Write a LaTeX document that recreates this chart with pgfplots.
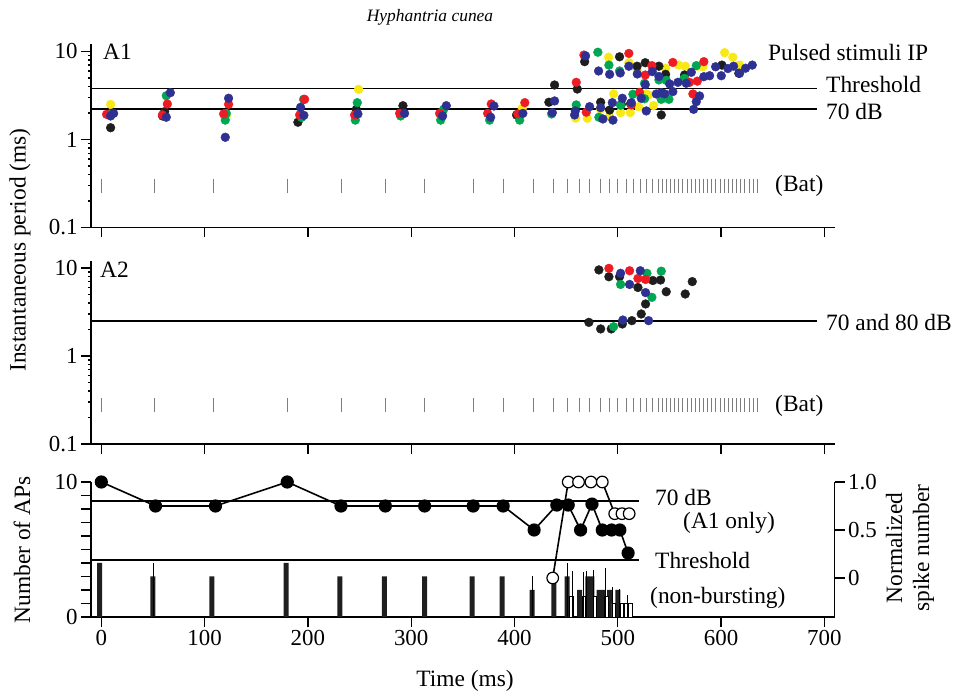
\documentclass[border=0pt]{standalone}
\usepackage{pgfplots}
\usepackage{pgfplotstable}
\pgfplotsset{compat=1.18}
\usepackage{fontspec}
\setmainfont{Liberation Serif}
\definecolor{cred}{RGB}{237,28,36}
\definecolor{cgreen}{RGB}{0,166,81}
\definecolor{cblue}{RGB}{46,49,146}
\definecolor{cyellow}{RGB}{248,232,20}
\definecolor{cblack}{RGB}{30,30,30}
\definecolor{batgray}{RGB}{125,125,125}
\pgfplotsset{
  base/.style={scale only axis, width=743.7bp, xmin=-10, xmax=710,
    axis line style={line width=1.2bp, -}, tick style={line width=1.2bp, black},
    tick align=outside, major tick length=10bp,
    tick label style={font=\fontsize{23}{25}\selectfont},
    /pgf/number format/assume math mode=true, clip=false},
  dots/.style={only marks, color=#1, mark=*, mark size=4.4bp, mark options={solid, draw=#1, fill=#1, line width=0.4bp}},
  bat/.style={only marks, mark=|, mark size=7bp, mark options={draw=batgray, line width=0.9bp}},
  thr/.style={black, line width=1.3bp, no marks},
}
\pgfplotstableread{
t v
5.1 1.93
63.9 2.53
59.1 1.9
123.2 2.51
118.4 1.95
196.8 2.86
192.0 1.9
245.2 1.9
288.8 1.98
327.5 1.98
377.5 2.53
374.0 1.98
410.0 2.62
403.2 1.95
467.2 9.1
510.7 9.5
526.6 5.4
459.8 4.46
469.5 2.04
513.1 2.47
521.1 3.43
533.0 6.9
553.3 7.5
583.3 7.66
569.5 4.46
577.0 4.6
572.7 3.29
}\redA
\pgfplotstableread{
t v
8.0 1.95
62.9 3.14
121.0 1.98
120.0 1.66
195.8 2.86
193.9 1.78
247.8 2.62
245.9 1.66
289.7 1.85
331.4 2.2
328.5 1.66
375.9 1.66
405.0 1.66
480.7 9.8
491.4 7.0
501.7 6.0
525.9 4.35
435.9 1.95
459.8 2.47
481.7 1.79
502.7 2.45
514.6 3.26
525.9 2.9
539.8 4.75
546.9 4.7
563.7 4.8
564.6 4.95
576.0 6.9
542.1 2.86
549.5 2.86
}\greenA
\pgfplotstableread{
t v
11.9 1.98
9.0 1.85
66.8 3.4
62.9 1.79
123.2 2.94
120.0 1.06
192.9 2.32
196.1 1.88
248.4 1.95
293.6 1.98
334.0 2.42
330.4 1.85
380.1 2.4
376.9 1.79
408.1 1.98
468.8 8.9
481.4 6.0
492.1 5.5
502.4 5.7
510.7 6.8
518.9 5.55
526.6 4.2
438.8 2.74
436.6 2.02
458.9 2.11
458.2 1.9
472.7 2.36
483.4 2.3
485.6 1.71
495.3 1.66
494.7 2.62
504.4 2.94
513.1 2.62
522.7 2.94
527.6 2.11
533.4 5.9
537.3 3.29
542.1 3.4
545.3 3.3
539.8 5.2
550.2 4.27
553.3 3.5
558.2 4.46
566.3 4.35
571.2 5.8
573.4 2.2
576.0 2.69
579.2 3.12
583.3 5.17
588.9 5.3
594.7 6.7
600.2 5.3
606.6 6.4
612.1 6.8
617.9 5.65
623.7 6.45
630.2 7.0
}\blueA
\pgfplotstableread{
t v
9.0 2.5
121.0 1.85
249.1 3.71
330.4 1.98
407.6 2.26
491.1 8.6
510.7 7.45
518.7 6.2
459.2 1.75
470.5 1.74
483.1 2.22
492.1 1.81
496.0 3.29
502.7 2.02
512.1 2.02
527.6 3.29
520.2 2.36
529.8 3.2
534.6 2.42
546.3 6.45
558.9 7.0
565.4 6.8
582.4 6.7
577.3 6.8
603.4 9.7
611.4 8.6
617.9 7.0
540.7 5.0
}\yellowA
\pgfplotstableread{
t v
9.0 1.36
61.3 2.07
59.3 1.85
190.3 1.57
246.9 2.2
292.0 2.42
402.0 1.9
467.9 7.66
501.7 8.7
518.7 6.8
526.6 7.45
438.8 4.16
460.8 3.74
433.3 2.65
483.4 2.65
492.1 2.16
503.4 2.51
512.4 2.55
539.8 6.8
546.3 5.5
564.6 5.4
542.1 1.9
600.8 7.0
617.2 5.65
}\blackA
\pgfplotstableread{
t a1 a2
0 0.30 0.277
51 0.30 0.277
109 0.30 0.277
180 0.30 0.277
232 0.30 0.277
275 0.30 0.277
313 0.30 0.277
360 0.30 0.277
389 0.30 0.277
418 0.30 0.277
438 0.30 0.277
451 0.30 0.277
463 0.30 0.277
473 0.30 0.277
483 0.30 0.277
492 0.30 0.277
500 0.30 0.277
508 0.30 0.277
515 0.30 0.277
522 0.30 0.277
528 0.30 0.277
534 0.30 0.277
539 0.30 0.277
543 0.30 0.277
547 0.30 0.277
551 0.30 0.277
555 0.30 0.277
559 0.30 0.277
563 0.30 0.277
567 0.30 0.277
571 0.30 0.277
575 0.30 0.277
579 0.30 0.277
583 0.30 0.277
587 0.30 0.277
591 0.30 0.277
595 0.30 0.277
599 0.30 0.277
603 0.30 0.277
607 0.30 0.277
611 0.30 0.277
615 0.30 0.277
619 0.30 0.277
623 0.30 0.277
627 0.30 0.277
631 0.30 0.277
635 0.30 0.277
}\battimes
\begin{document}
\begin{tikzpicture}[font=\fontsize{23.5}{27}\selectfont]
\path[use as bounding box] (0,0) rectangle (953bp,693bp);
% ---------- A1 ----------
\begin{axis}[base, at={(91bp,465.5bp)}, anchor=south west, height=183bp,
  axis x line*=bottom, axis y line*=left, ymode=log, ymin=0.1, ymax=12,
  xtick={0,100,...,700}, xticklabels={}, ytick={0.1,1,10}, yticklabels={0.1,1,10}]
\addplot[thr] coordinates {(-10,3.77) (693,3.77)};
\addplot[thr] coordinates {(-10,2.22) (693,2.22)};
\addplot[bat] table[x=t, y=a1] {\battimes};
\addplot[dots=cyellow] table[x=t,y=v] {\yellowA};
\addplot[dots=cblack] table[x=t,y=v] {\blackA};
\addplot[dots=cgreen] table[x=t,y=v] {\greenA};
\addplot[dots=cred] table[x=t,y=v] {\redA};
\addplot[dots=cblue] table[x=t,y=v] {\blueA};
\end{axis}
% ---------- A2 ----------
\begin{axis}[base, at={(91bp,249bp)}, anchor=south west, height=183bp,
  axis x line*=bottom, axis y line*=left, ymode=log, ymin=0.1, ymax=12,
  xtick={0,100,...,700}, xticklabels={}, ytick={0.1,1,10}, yticklabels={0.1,1,10}]
\addplot[thr] coordinates {(-10,2.49) (693,2.49)};
\addplot[bat] table[x=t, y=a2] {\battimes};
\addplot[dots=cblack] coordinates {(481.7,9.5) (491.4,7.95) (501.7,7.95) (534.0,7.2) (541.4,7.3) (519.5,6.0) (526.9,3.9) (546.9,5.37) (565.3,5.06) (572.1,7.0) (522.7,3.0) (513.6,2.52) (504.4,2.31) (472.0,2.41) (483.4,2.03) (493.7,2.03)};
\addplot[dots=cgreen] coordinates {(528.2,8.7) (542.1,9.2) (502.7,6.5) (533.0,4.64) (495.9,2.15)};
\addplot[dots=cred] coordinates {(491.4,9.9) (511.4,9.3) (519.5,7.6) (526.9,7.4)};
\addplot[dots=cblue] coordinates {(502.7,8.7) (521.8,9.3) (511.4,6.5) (526.9,5.25) (504.9,2.56) (529.8,2.52)};
\end{axis}
% ---------- Bottom ----------
\begin{axis}[base, at={(91bp,76bp)}, anchor=south west, height=135bp,
  axis x line*=bottom, axis y line*=left, ymin=0, ymax=10,
  xtick={0,100,...,700}, xticklabels={0,100,200,300,400,500,600,700},
  ytick={0,1,...,10}, yticklabels={0,,,,,,,,,,10}]
\addplot[ybar, bar width=5bp, bar shift=0pt, fill=black!88, draw=none] coordinates {
(-1.6,4) (50,3) (107,3) (179,4) (231,3) (274,3) (313,3) (359,3) (388,3) (417,2)
(438,3) (451,3) (463,2) (471,3) (475,3) (482,2) (486,2) (492,2) (500,2)};
\addplot[ybar, bar width=3.4bp, bar shift=0pt, fill=white, draw=black, line width=0.7bp] coordinates {
(455,1.5) (467,1.5) (478,1.5) (489,1.5) (496,1) (504,1) (508,1) (512,1)};
\addplot[ycomb, black, line width=0.8bp, no marks] coordinates {
(50,4) (417,3) (451,4) (456,3.4) (467,3.3) (470,3.4) (476,3.5) (488,3.6) (495,2.2) (502,2.1) (509,1.6)};
\addplot[thr] coordinates {(-10,8.59) (521,8.59)};
\addplot[thr] coordinates {(-10,4.22) (521,4.22)};
\end{axis}
\begin{axis}[base, at={(91bp,76bp)}, anchor=south west, height=135bp,
  axis x line=none, axis y line*=right, ymin=-0.406, ymax=1.0,
  ytick={0,0.5,1}, yticklabels={0,0.5,1.0}]
\addplot[black, line width=1.6bp, mark=*, mark size=5.8bp, mark options={fill=black, draw=black}] coordinates {
(0,1) (52.5,0.75) (110.5,0.75) (180,1) (232,0.75) (275,0.75) (313,0.75) (360,0.75) (389,0.75)
(419,0.5) (441,0.76) (452,0.76) (464,0.5) (475,0.77) (485,0.5) (494,0.5) (502,0.5) (510,0.26)};
\addplot[black, line width=1.6bp, mark=*, mark size=5.8bp, mark options={fill=white, draw=black, line width=1.2bp}] coordinates {
(437,0.0) (452,1) (462,1) (474,1) (485,1) (497,0.67) (504,0.67) (511,0.67)};
\end{axis}
% ---------- texts ----------
\node at (430bp,676bp) {\fontsize{17.5}{20}\selectfont\itshape Hyphantria cunea};
\node[anchor=west, inner sep=0] at (103bp,641bp) {A1};
\node[anchor=west, inner sep=0] at (100bp,423bp) {A2};
\node[anchor=west, inner sep=0] at (768bp,641bp) {Pulsed stimuli IP};
\node[anchor=west, inner sep=0] at (826bp,609bp) {Threshold};
\node[anchor=west, inner sep=0] at (826bp,582bp) {70 dB};
\node[anchor=west, inner sep=0] at (775bp,507bp) {(Bat)};
\node[anchor=west, inner sep=0] at (826bp,371bp) {70 and 80 dB};
\node[anchor=west, inner sep=0] at (775bp,287bp) {(Bat)};
\node[anchor=west, inner sep=0] at (655bp,196bp) {70 dB};
\node[anchor=west, inner sep=0] at (683bp,170bp) {(A1 only)};
\node[anchor=west, inner sep=0] at (655bp,133bp) {Threshold};
\node[anchor=west, inner sep=0] at (650bp,95bp) {(non-bursting)};
\node[rotate=90] at (20bp,443bp) {Instantaneous period (ms)};
\node[rotate=90] at (22bp,143bp) {Number of APs};
\node[rotate=90, align=center] at (910bp,145bp) {Normalized\\spike number};
\node at (465bp,12bp) {Time (ms)};
\end{tikzpicture}
\end{document}
